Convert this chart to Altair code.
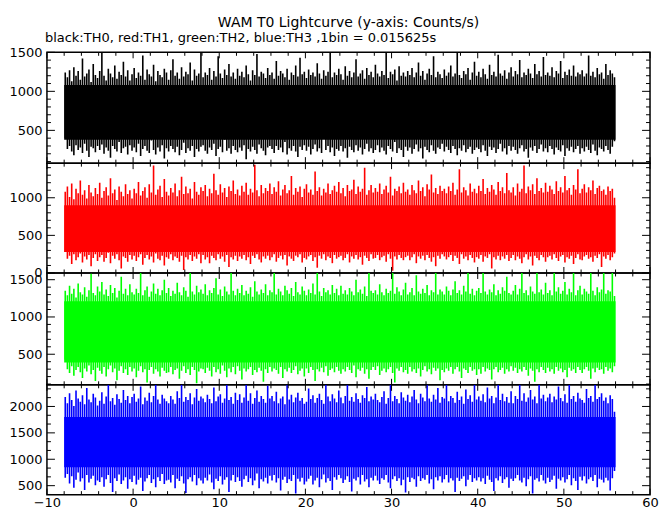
import altair as alt
import numpy as np
import pandas as pd

# ---- data (envelope of each 0.25 s column: max and min counts/s) ----
T0 = -8.0
BIN = 0.25

TH0_HI = [
    1240, 1180, 1270, 1130, 1310, 1200, 1260, 1150, 1420, 1190, 1230, 1280, 1120, 1350, 1210, 1170,
    1260, 1490, 1200, 1140, 1290, 1230, 1180, 1330, 1160, 1250, 1210, 1380, 1190, 1270, 1140, 1220,
    1300, 1170, 1240, 1200, 1460, 1150, 1280, 1220, 1190, 1340, 1130, 1260, 1210, 1180, 1290, 1240,
    1150, 1270, 1410, 1200, 1240, 1160, 1310, 1190, 1250, 1220, 1370, 1140, 1280, 1200, 1230, 1500,
    1180, 1240, 1210, 1300, 1150, 1260, 1190, 1450, 1230, 1170, 1280, 1210, 1350, 1190, 1240, 1160,
    1290, 1200, 1250, 1180, 1330, 1220, 1140, 1270, 1210, 1480, 1190, 1250, 1230, 1170, 1300, 1210,
    1240, 1160, 1390, 1200, 1260, 1230, 1180, 1290, 1150, 1240, 1210, 1330, 1190, 1430, 1220, 1250,
    1170, 1280, 1210, 1240, 1190, 1360, 1230, 1160, 1270, 1200, 1250, 1500, 1180, 1240, 1210, 1290,
    1220, 1150, 1320, 1200, 1260, 1180, 1240, 1410, 1190, 1230, 1270, 1160, 1300, 1210, 1250, 1180,
    1340, 1230, 1190, 1260, 1210, 1490, 1170, 1250, 1220, 1280, 1140, 1320, 1200, 1240, 1190, 1260,
    1210, 1300, 1180, 1240, 1370, 1200, 1260, 1150, 1230, 1290, 1210, 1450, 1180, 1250, 1220, 1170,
    1280, 1200, 1240, 1330, 1190, 1230, 1500, 1210, 1170, 1260, 1220, 1300, 1150, 1240, 1380, 1200,
    1250, 1180, 1290, 1220, 1160, 1340, 1210, 1250, 1190, 1470, 1230, 1200, 1270, 1160, 1240, 1310,
    1190, 1260, 1220, 1400, 1180, 1240, 1210, 1290, 1230, 1170, 1350, 1220, 1260, 1190, 1440, 1210,
    1240, 1200, 1310, 1180, 1260, 1230, 1390, 1170, 1250, 1210, 1280, 1200, 1330, 1190, 1240, 1220,
    1270, 1190, 1230, 1460, 1200, 1250, 1180, 1300, 1220, 1240, 1160, 1350, 1210, 1270, 1230, 1180,
]
TH0_LO = [
    400, 260, 300, 230, 180, 310, 250, 280, 210, 330, 240, 160, 290, 270, 220, 300,
    250, 320, 200, 280, 240, 150, 300, 260, 230, 350, 210, 270, 290, 190, 310, 240,
    280, 220, 330, 170, 260, 300, 240, 210, 370, 250, 190, 280, 230, 310, 140, 270,
    230, 300, 260, 220, 290, 180, 250, 340, 210, 270, 240, 300, 160, 260, 230, 290,
    310, 240, 200, 280, 250, 330, 170, 260, 290, 220, 380, 240, 270, 200, 300, 250,
    220, 280, 240, 310, 130, 260, 230, 290, 250, 200, 320, 270, 240, 180, 280, 300,
    260, 210, 300, 250, 280, 220, 350, 190, 270, 240, 300, 230, 160, 290, 250, 310,
    240, 290, 190, 260, 320, 230, 270, 210, 440, 250, 300, 220, 280, 170, 260, 240,
    300, 230, 270, 150, 290, 250, 220, 310, 240, 280, 190, 260, 330, 230, 270, 210,
    250, 310, 220, 280, 240, 190, 300, 260, 230, 350, 210, 270, 250, 160, 290, 240,
    280, 200, 260, 320, 230, 270, 140, 290, 250, 220, 310, 240, 200, 280, 260, 330,
    230, 290, 250, 210, 300, 260, 180, 270, 240, 310, 220, 260, 290, 200, 250, 280,
    260, 220, 310, 240, 170, 290, 250, 280, 210, 260, 330, 230, 270, 190, 300, 240,
    290, 250, 200, 270, 310, 230, 260, 150, 280, 240, 300, 210, 260, 320, 230, 270,
    220, 300, 260, 190, 280, 250, 230, 310, 170, 270, 240, 290, 220, 260, 300, 200,
    270, 230, 290, 250, 210, 320, 240, 180, 280, 260, 230, 300, 250, 200, 290, 360,
]
TH1_HI = [
    1080, 1150, 1010, 1190, 980, 1120, 1060, 1230, 1040, 1100, 990, 1170, 1070, 1020, 1130, 1050,
    1200, 1000, 1090, 1140, 1030, 1260, 1060, 1110, 970, 1150, 1080, 1020, 1180, 1050, 1100, 990,
    1120, 1060, 1210, 1030, 1090, 1140, 1000, 1180, 1070, 1430, 1040, 1110, 1160, 1010, 1250, 1080,
    1030, 1130, 1070, 1190, 1020, 1100, 1280, 1050, 1150, 1060, 1120, 990, 1210, 1080, 1040, 1140,
    1090, 1170, 1020, 1120, 1060, 1320, 1100, 1040, 1180, 1070, 1130, 1010, 1150, 1090, 1230, 1050,
    1110, 1030, 1160, 1080, 1200, 1040, 1120, 1070, 1440, 1100, 1020, 1170, 1060, 1130, 1090, 1190,
    1050, 1140, 1080, 1220, 1030, 1110, 1170, 1060, 1100, 1290, 1040, 1130, 1080, 1150, 1010, 1120,
    1180, 1070, 1110, 1040, 1350, 1090, 1140, 1030, 1120, 1070, 1190, 1050, 1100, 1160, 1080, 1210,
    1060, 1130, 1020, 1170, 1090, 1110, 1240, 1050, 1150, 1080, 1120, 1400, 1040, 1100, 1170, 1070,
    1130, 1080, 1190, 1050, 1110, 1160, 1070, 1280, 1030, 1120, 1090, 1150, 1060, 1200, 1080, 1110,
    1040, 1170, 1100, 1060, 1230, 1090, 1140, 1020, 1180, 1110, 1310, 1070, 1130, 1050, 1160, 1090,
    1120, 1060, 1150, 1090, 1200, 1040, 1110, 1380, 1070, 1140, 1100, 1030, 1190, 1080, 1120, 1060,
    1160, 1090, 1250, 1050, 1130, 1080, 1170, 1110, 1040, 1210, 1090, 1140, 1060, 1330, 1100, 1070,
    1140, 1030, 1190, 1080, 1120, 1430, 1060, 1150, 1100, 1180, 1050, 1260, 1090, 1130, 1070, 1200,
    1080, 1160, 1110, 1050, 1220, 1090, 1140, 1070, 1290, 1100, 1130, 1040, 1170, 1110, 1380, 1060,
    1120, 1180, 1070, 1140, 1100, 1230, 1050, 1130, 1160, 1090, 1110, 1040, 1150, 1090, 1120, 1000,
]
TH1_LO = [
    280, 190, 230, 120, 250, 170, 210, 260, 140, 220, 180, 240, 90, 200, 250, 160,
    210, 240, 150, 200, 270, 130, 230, 190, 250, 170, 60, 220, 200, 150, 240, 180,
    230, 160, 210, 250, 110, 200, 240, 180, 220, 140, 260, 190, 170, 230, 100, 210,
    190, 250, 170, 220, 200, 150, 230, 40, 210, 180, 240, 160, 220, 190, 250, 130,
    240, 180, 210, 130, 230, 200, 170, 250, 190, 220, 150, 240, 80, 210, 180, 230,
    160, 220, 190, 240, 170, 210, 120, 230, 200, 250, 180, 140, 220, 190, 230, 170,
    210, 250, 150, 200, 230, 180, 240, 100, 220, 190, 160, 230, 210, 250, 140, 200,
    180, 220, 240, 160, 210, 70, 230, 190, 250, 170, 220, 200, 130, 240, 190, 210,
    230, 170, 200, 250, 140, 220, 190, 240, 180, 210, 110, 230, 200, 160, 250, 190,
    200, 240, 170, 210, 230, 150, 250, 190, 30, 220, 180, 240, 200, 170, 210, 230,
    170, 210, 250, 130, 220, 190, 230, 170, 240, 200, 150, 210, 90, 230, 190, 250,
    220, 180, 210, 240, 160, 230, 200, 120, 250, 190, 220, 170, 240, 200, 140, 210,
    190, 240, 150, 220, 200, 250, 60, 210, 180, 230, 170, 220, 190, 240, 160, 200,
    240, 170, 220, 190, 130, 210, 250, 180, 220, 100, 230, 200, 170, 240, 210, 150,
    210, 230, 180, 250, 200, 160, 220, 240, 140, 210, 190, 230, 120, 200, 250, 180,
    170, 220, 240, 190, 210, 150, 230, 200, 250, 80, 220, 190, 240, 170, 210, 260,
]
TH2_HI = [
    1350, 1290, 1420, 1310, 1380, 1260, 1450, 1330, 1300, 1400, 1270, 1360, 1580, 1320, 1290, 1410,
    1340, 1470, 1300, 1370, 1280, 1430, 1320, 1390, 1260, 1350, 1540, 1310, 1380, 1290, 1440, 1330,
    1300, 1380, 1320, 1590, 1290, 1360, 1410, 1270, 1340, 1450, 1310, 1380, 1290, 1360, 1500, 1320,
    1390, 1280, 1350, 1310, 1460, 1330, 1290, 1400, 1350, 1270, 1590, 1340, 1300, 1420, 1330, 1370,
    1310, 1440, 1290, 1360, 1320, 1390, 1520, 1300, 1370, 1280, 1410, 1340, 1300, 1590, 1350, 1290,
    1380, 1320, 1430, 1290, 1350, 1310, 1400, 1270, 1480, 1340, 1300, 1370, 1320, 1440, 1290, 1360,
    1330, 1590, 1300, 1380, 1340, 1290, 1420, 1360, 1310, 1390, 1280, 1470, 1330, 1300, 1410, 1350,
    1290, 1370, 1320, 1450, 1300, 1590, 1340, 1280, 1390, 1330, 1360, 1300, 1430, 1320, 1380, 1290,
    1420, 1310, 1360, 1300, 1390, 1340, 1290, 1500, 1330, 1370, 1310, 1410, 1280, 1590, 1350, 1320,
    1360, 1300, 1440, 1330, 1290, 1380, 1320, 1350, 1590, 1310, 1400, 1340, 1290, 1370, 1460, 1300,
    1330, 1390, 1290, 1560, 1340, 1310, 1380, 1320, 1430, 1290, 1360, 1330, 1590, 1300, 1370, 1340,
    1300, 1410, 1350, 1290, 1370, 1480, 1320, 1360, 1300, 1420, 1340, 1590, 1310, 1380, 1290, 1350,
    1390, 1320, 1590, 1340, 1300, 1370, 1330, 1440, 1290, 1360, 1310, 1400, 1350, 1540, 1320, 1300,
    1350, 1430, 1300, 1380, 1590, 1320, 1360, 1290, 1410, 1340, 1310, 1590, 1330, 1370, 1300, 1460,
    1320, 1360, 1290, 1590, 1340, 1400, 1310, 1350, 1470, 1300, 1380, 1330, 1590, 1290, 1360, 1420,
    1300, 1380, 1340, 1310, 1590, 1350, 1290, 1400, 1330, 1370, 1590, 1310, 1360, 1340, 1590, 1280,
]
TH2_LO = [
    430, 300, 250, 340, 210, 290, 330, 260, 180, 310, 270, 350, 230, 290, 140, 320,
    280, 240, 330, 200, 300, 350, 260, 310, 150, 280, 340, 250, 300, 220, 330, 270,
    310, 190, 280, 340, 260, 300, 120, 290, 330, 240, 300, 270, 200, 320, 280, 250,
    260, 330, 230, 290, 310, 170, 280, 340, 250, 300, 220, 330, 290, 110, 270, 310,
    300, 250, 320, 280, 200, 330, 260, 300, 240, 350, 280, 190, 310, 260, 330, 230,
    340, 280, 160, 310, 270, 300, 330, 220, 290, 260, 320, 280, 130, 300, 250, 330,
    270, 310, 290, 240, 330, 180, 300, 270, 320, 250, 290, 340, 230, 280, 310, 200,
    310, 250, 330, 290, 140, 300, 270, 320, 260, 340, 210, 290, 310, 260, 330, 280,
    240, 300, 270, 330, 290, 250, 350, 190, 300, 280, 320, 240, 300, 170, 290, 330,
    290, 340, 220, 280, 310, 260, 300, 330, 250, 120, 310, 280, 330, 260, 290, 240,
    330, 270, 300, 250, 310, 200, 290, 340, 270, 300, 230, 320, 280, 310, 150, 290,
    260, 310, 280, 330, 240, 300, 330, 270, 180, 310, 290, 250, 330, 280, 300, 220,
    300, 240, 330, 270, 310, 290, 160, 300, 330, 260, 290, 320, 240, 300, 270, 340,
    280, 320, 250, 300, 270, 330, 290, 210, 310, 280, 130, 300, 260, 330, 290, 250,
    320, 270, 300, 240, 330, 280, 310, 260, 290, 190, 320, 280, 300, 250, 330, 290,
    250, 300, 330, 280, 170, 310, 260, 320, 290, 300, 240, 330, 280, 310, 260, 340,
]
TH3_HI = [
    2180, 2060, 2250, 2120, 2010, 2300, 2150, 2090, 2210, 2040, 2350, 2130, 2080, 2240, 2170, 2020,
    2110, 2270, 2050, 2190, 2410, 2100, 2160, 2030, 2230, 2140, 2070, 2310, 2120, 2200, 2060, 2180,
    2240, 2090, 2150, 2380, 2040, 2170, 2110, 2260, 2080, 2200, 2410, 2130, 2050, 2220, 2150, 2100,
    2060, 2200, 2130, 2050, 2290, 2160, 2410, 2090, 2180, 2120, 2250, 2040, 2170, 2330, 2110, 2190,
    2150, 2080, 2220, 2140, 2060, 2360, 2100, 2190, 2230, 2070, 2150, 2410, 2120, 2180, 2050, 2260,
    2120, 2230, 2070, 2170, 2410, 2110, 2250, 2050, 2160, 2300, 2090, 2200, 2140, 2070, 2390, 2150,
    2200, 2100, 2280, 2060, 2150, 2190, 2040, 2410, 2130, 2220, 2080, 2170, 2260, 2110, 2160, 2050,
    2090, 2340, 2140, 2210, 2070, 2160, 2240, 2120, 2050, 2410, 2190, 2100, 2230, 2150, 2080, 2300,
    2170, 2060, 2200, 2410, 2110, 2180, 2090, 2250, 2140, 2070, 2210, 2160, 2370, 2100, 2190, 2130,
    2240, 2120, 2080, 2180, 2290, 2050, 2160, 2410, 2100, 2200, 2140, 2060, 2270, 2170, 2110, 2220,
    2080, 2190, 2310, 2130, 2060, 2240, 2170, 2100, 2410, 2150, 2090, 2220, 2130, 2350, 2070, 2180,
    2150, 2410, 2100, 2200, 2160, 2070, 2280, 2120, 2190, 2050, 2320, 2140, 2210, 2090, 2410, 2130,
    2190, 2110, 2230, 2080, 2360, 2150, 2200, 2060, 2170, 2410, 2120, 2240, 2100, 2180, 2070, 2290,
    2060, 2200, 2140, 2410, 2110, 2250, 2090, 2170, 2310, 2130, 2190, 2060, 2410, 2150, 2220, 2100,
    2170, 2240, 2080, 2190, 2130, 2380, 2160, 2100, 2230, 2070, 2410, 2140, 2200, 2090, 2260, 2150,
    2120, 2070, 2330, 2160, 2200, 2090, 2410, 2140, 2180, 2250, 2110, 2170, 2060, 2210, 2140, 1900,
]
TH3_LO = [
    650, 720, 540, 680, 460, 610, 750, 580, 640, 420, 700, 560, 630, 690, 510, 600,
    570, 660, 480, 620, 700, 550, 380, 640, 590, 710, 530, 600, 660, 440, 620, 570,
    690, 520, 610, 650, 400, 580, 640, 700, 550, 620, 470, 660, 590, 720, 530, 600,
    610, 560, 700, 450, 630, 590, 680, 540, 360, 620, 660, 580, 700, 510, 640, 600,
    540, 650, 600, 710, 560, 430, 630, 590, 680, 520, 610, 660, 380, 600, 700, 570,
    660, 590, 480, 620, 690, 570, 640, 510, 600, 730, 450, 620, 580, 650, 540, 690,
    600, 700, 560, 640, 410, 610, 670, 550, 620, 590, 700, 350, 630, 580, 650, 520,
    580, 630, 690, 520, 600, 650, 470, 620, 710, 560, 640, 590, 420, 660, 610, 700,
    640, 550, 610, 680, 570, 390, 630, 600, 660, 520, 700, 580, 620, 470, 650, 600,
    690, 600, 530, 640, 610, 700, 560, 450, 620, 680, 590, 640, 510, 610, 370, 660,
    570, 650, 620, 480, 680, 590, 640, 610, 700, 540, 620, 430, 660, 600, 680, 560,
    620, 700, 560, 640, 600, 380, 650, 590, 630, 680, 490, 610, 700, 570, 640, 600,
    660, 580, 640, 530, 690, 610, 570, 400, 640, 600, 680, 550, 620, 660, 460, 630,
    590, 640, 700, 600, 560, 650, 490, 620, 680, 350, 610, 640, 580, 700, 600, 540,
    650, 570, 610, 690, 440, 630, 600, 660, 560, 620, 700, 510, 640, 590, 420, 670,
    600, 680, 540, 620, 660, 590, 700, 470, 630, 610, 560, 650, 600, 410, 640, 780,
]

# solid (fully dense) band of each series, counts/s
CORE_LO = [380, 280, 390, 850]
CORE_HI = [1080, 900, 1210, 1800]

X_DOMAIN = [-10, 60]
X_LABELS = [-10, 0, 10, 20, 30, 40, 50, 60]
X_MINOR = [-8, -6, -4, -2, 2, 4, 6, 8, 12, 14, 16, 18, 22, 24, 26, 28, 32, 34, 36, 38,
           42, 44, 46, 48, 52, 54, 56, 58]

PANELS = [
    dict(color="#000000", hi=TH0_HI, lo=TH0_LO, domain=[80, 1500], height=111,
         labels=[500, 1000, 1500],
         minor=[100, 200, 300, 400, 600, 700, 800, 900, 1100, 1200, 1300, 1400]),
    dict(color="#ff0000", hi=TH1_HI, lo=TH1_LO, domain=[0, 1460], height=110,
         labels=[0, 500, 1000],
         minor=[100, 200, 300, 400, 600, 700, 800, 900, 1100, 1200, 1300, 1400]),
    dict(color="#00ff00", hi=TH2_HI, lo=TH2_LO, domain=[90, 1590], height=112,
         labels=[500, 1000, 1500],
         minor=[100, 200, 300, 400, 600, 700, 800, 900, 1100, 1200, 1300, 1400]),
    dict(color="#0000ff", hi=TH3_HI, lo=TH3_LO, domain=[330, 2410], height=110,
         labels=[500, 1000, 1500, 2000],
         minor=[333, 667, 833, 1167, 1333, 1667, 1833, 2167, 2333]),
]

TITLE = "WAM T0 Lightcurve (y-axis: Counts/s)"
SUBTITLE = "black:TH0, red:TH1, green:TH2, blue:TH3 ,1bin = 0.015625s"

W = 604
FONT = "DejaVu Sans"


def tick_layer(df, xs, ys, xaxis, yaxis, orient, length, size):
    base = alt.Chart(df).mark_rule(color="black", strokeWidth=1)
    if orient in ("left", "right"):
        y = alt.Y("v:Q", scale=ys, axis=yaxis)
        if orient == "left":
            return base.encode(y=y, x=alt.value(0), x2=alt.value(length))
        return base.encode(y=y, x=alt.value(W - length), x2=alt.value(W))
    x = alt.X("v:Q", scale=xs, axis=xaxis)
    if orient == "top":
        return base.encode(x=x, y=alt.value(0), y2=alt.value(length))
    return base.encode(x=x, y=alt.value(size - length), y2=alt.value(size))


def make_panel(i, p, bottom, first):
    n = len(p["hi"])
    t = T0 + BIN * (np.arange(n) + 0.5)
    df = pd.DataFrame({"t": t, "lo": p["lo"], "hi": p["hi"]})
    core = pd.DataFrame({"t0": [T0], "t1": [T0 + BIN * n],
                         "lo": [CORE_LO[i]], "hi": [CORE_HI[i]]})
    xs = alt.Scale(domain=X_DOMAIN, nice=False, zero=False)
    ys = alt.Scale(domain=p["domain"], nice=False, zero=False)
    if bottom:
        xaxis = alt.Axis(values=X_LABELS, ticks=False, tickSize=0, domain=False, grid=False,
                         labelFlush=False, labelPadding=2, labelFont=FONT, labelFontSize=13,
                         labelColor="black", title=None, labelOverlap=False, format="d")
    else:
        xaxis = None
    yaxis = alt.Axis(values=p["labels"], ticks=False, tickSize=0, domain=False, grid=False,
                     labelFlush=False, labelPadding=5, labelFont=FONT, labelFontSize=13,
                     labelColor="black", title=None, labelOverlap=False, format="d")
    data = alt.Chart(df).mark_rule(color=p["color"], strokeWidth=1.6, clip=True).encode(
        x=alt.X("t:Q", scale=xs, axis=xaxis),
        y=alt.Y("lo:Q", scale=ys, axis=yaxis),
        y2="hi:Q",
    )
    band = alt.Chart(core).mark_rect(color=p["color"], clip=True).encode(
        x=alt.X("t0:Q", scale=xs, axis=xaxis),
        x2="t1:Q",
        y=alt.Y("lo:Q", scale=ys, axis=yaxis),
        y2="hi:Q",
    )
    h = p["height"]
    ymaj = pd.DataFrame({"v": p["labels"]})
    ymin = pd.DataFrame({"v": p["minor"]})
    xmaj = pd.DataFrame({"v": X_LABELS})
    xmin = pd.DataFrame({"v": X_MINOR})
    layers = [data, band]
    for side in ("left", "right"):
        layers.append(tick_layer(ymaj, xs, ys, xaxis, yaxis, side, 8, h))
        layers.append(tick_layer(ymin, xs, ys, xaxis, yaxis, side, 4, h))
    for side in ("top", "bottom"):
        layers.append(tick_layer(xmaj, xs, ys, xaxis, yaxis, side, 6, h))
        layers.append(tick_layer(xmin, xs, ys, xaxis, yaxis, side, 3.5, h))
    ch = alt.layer(*layers).properties(width=W, height=h)
    if first:
        ch = ch.properties(title=alt.TitleParams(
            text=SUBTITLE, anchor="start", frame="group", font=FONT, fontSize=13,
            fontWeight="normal", color="black", offset=1, dx=-2))
    return ch


panels = [make_panel(i, p, i == len(PANELS) - 1, i == 0) for i, p in enumerate(PANELS)]

chart = alt.vconcat(*panels, spacing=0, bounds="flush").resolve_scale(
    x="independent", y="independent"
).properties(
    title=alt.TitleParams(text=TITLE, anchor="middle", frame="group", font=FONT,
                          fontSize=14, fontWeight="normal", color="black", offset=2),
    padding={"left": 0, "top": 7, "right": 4, "bottom": 0},
).configure_view(stroke="black", strokeWidth=1.5)

chart.save("out.html", embed_options={"renderer": "svg", "actions": False})
